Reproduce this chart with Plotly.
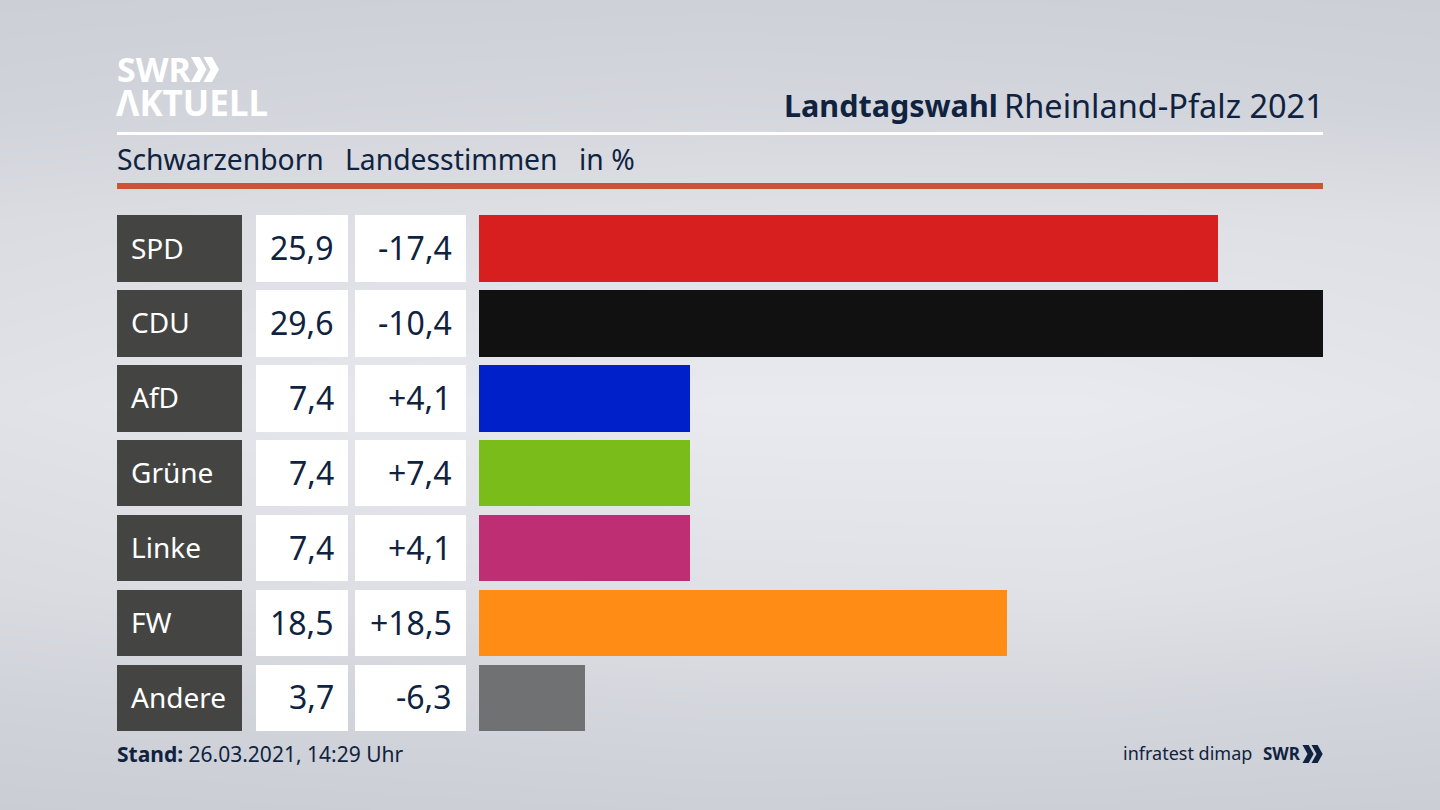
# plot.py
import plotly.graph_objects as go

parties = ["SPD", "CDU", "AfD", "Grüne", "Linke", "FW", "Andere"]
shares = [25.9, 29.6, 7.4, 7.4, 7.4, 18.5, 3.7]
share_labels = ["25,9", "29,6", "7,4", "7,4", "7,4", "18,5", "3,7"]
change_labels = ["-17,4", "-10,4", "+4,1", "+7,4", "+4,1", "+18,5", "-6,3"]
colors = ["#d81f1f", "#111111", "#0021c9", "#7abd1a", "#bd2f72", "#ff8c14", "#707172"]

# background brightness, coarse grid over the canvas
bg_x = [0, 360, 720, 1080, 1440]
bg_y = [0, 110, 220, 405, 590, 700, 810]
bg_z = [
    [0.10, 0.14, 0.16, 0.14, 0.10],
    [0.24, 0.32, 0.36, 0.32, 0.24],
    [0.52, 0.62, 0.68, 0.70, 0.64],
    [0.74, 0.90, 1.00, 1.00, 0.84],
    [0.50, 0.62, 0.70, 0.72, 0.62],
    [0.22, 0.30, 0.36, 0.36, 0.28],
    [0.04, 0.08, 0.12, 0.10, 0.06],
]

W, H = 1440, 810
NAVY = "#0f2340"
FONT = "Noto Sans"
ROW_STEP = 74.9
ROW_TOP = 248.5
BAR_H = 66.5 / ROW_STEP
BAR_LEFT, BAR_RIGHT = 479, 1323

fig = go.Figure()

# canvas background
fig.add_trace(go.Heatmap(x=bg_x, y=bg_y, z=bg_z, zsmooth="best", showscale=False, hoverinfo="skip",
                         colorscale=[[0, "#c9ccd3"], [1, "#e9eaef"]], zmin=0, zmax=1))

# label and value cells, in canvas pixels
for left, right, col in [(117, 241.5, "#444542"), (255.5, 348, "#ffffff"), (355, 466, "#ffffff")]:
    fig.add_trace(go.Bar(y=parties, x=[right - left] * len(parties), base=left, orientation="h",
                         width=BAR_H, marker=dict(color=col, line_width=0),
                         xaxis="x3", yaxis="y2", hoverinfo="skip", showlegend=False))

# result bars
fig.add_trace(go.Bar(y=parties, x=shares, orientation="h", width=BAR_H,
                     marker=dict(color=colors, line_width=0),
                     xaxis="x2", yaxis="y2", showlegend=False))


def text(x, y, s, size, color=NAVY, anchor="left", yref="y", **kw):
    # annotations carry a little padding, take it back so x is the ink edge
    x = x - 2 if anchor == "left" else x + 3
    fig.add_annotation(x=x, y=y, text=s, xref="x", yref=yref, showarrow=False, xanchor=anchor,
                       yanchor="middle", font=dict(family=FONT, size=size, color=color), **kw)


for i, p in enumerate(parties):
    text(131, p, p, 28, color="#ffffff", yref="y2", yshift=1)
    text(333, p, share_labels[i], 32, anchor="right", yref="y2", yshift=1)
    text(451, p, change_labels[i], 32, anchor="right", yref="y2", yshift=1)

# header and footer
text(997, 105, "<b>Landtagswahl</b>", 30.5, anchor="right")
text(1323, 105, "Rheinland-Pfalz 2021", 32.5, anchor="right")
text(117, 159, "Schwarzenborn", 28.3)
text(345, 159, "Landesstimmen", 28.3)
text(579, 159, "in %", 28.3)
text(117, 754, "<b>Stand:</b> 26.03.2021, 14:29 Uhr", 21)
text(1251, 753, "infratest dimap", 18, anchor="right")
text(1263, 753, "<b>SWR</b>", 17)
text(117, 69, "<b>SWR</b>", 34, color="#ffffff")
text(116, 102, "<b>ΛKTUELL</b>", 35, color="#ffffff")


def chevrons(x, y, h, color):
    # two small arrow heads next to the SWR wordmark
    w = h * 0.28
    t = h * 0.34
    path = ""
    for dx in (0, h * 0.5):
        x0 = x + dx
        path += (f"M{x0},{y} L{x0 + t},{y} L{x0 + t + w},{y + h / 2} L{x0 + t},{y + h} "
                 f"L{x0},{y + h} L{x0 + w},{y + h / 2} Z ")
    return dict(type="path", path=path, xref="x", yref="y", fillcolor=color, line_width=0)


shapes = [
    dict(type="rect", x0=117, x1=1323, y0=132, y1=135, xref="x", yref="y", fillcolor="#ffffff", line_width=0),
    dict(type="rect", x0=117, x1=1323, y0=183, y1=189, xref="x", yref="y", fillcolor="#cc5239", line_width=0),
    chevrons(191, 57, 25, "#ffffff"),
    chevrons(1302.5, 745, 18, NAVY),
]

# overlaid axes share the domain, so the value axis is stretched to put 0 and the maximum at the bar edges
per_px = max(shares) / (BAR_RIGHT - BAR_LEFT)

fig.update_layout(
    width=W, height=H, margin=dict(l=0, r=0, t=0, b=0), barmode="overlay", bargap=0,
    paper_bgcolor="#dcdee3", plot_bgcolor="rgba(0,0,0,0)", shapes=shapes,
    xaxis=dict(range=[0, W], visible=False, domain=[0, 1]),
    yaxis=dict(range=[H, 0], visible=False, domain=[0, 1]),
    xaxis2=dict(range=[-BAR_LEFT * per_px, (W - BAR_LEFT) * per_px], visible=False, overlaying="x",
                anchor="y2"),
    xaxis3=dict(range=[0, W], domain=[0, 1], visible=False, overlaying="x", anchor="y2"),
    yaxis2=dict(type="category", categoryorder="array", categoryarray=parties, visible=False,
                overlaying="y", anchor="x2", domain=[0, 1],
                range=[(H - ROW_TOP) / ROW_STEP, -ROW_TOP / ROW_STEP]),
)

fig.write_html("out.html", post_script="document.body.style.margin='0';",
               config=dict(displayModeBar=False))
